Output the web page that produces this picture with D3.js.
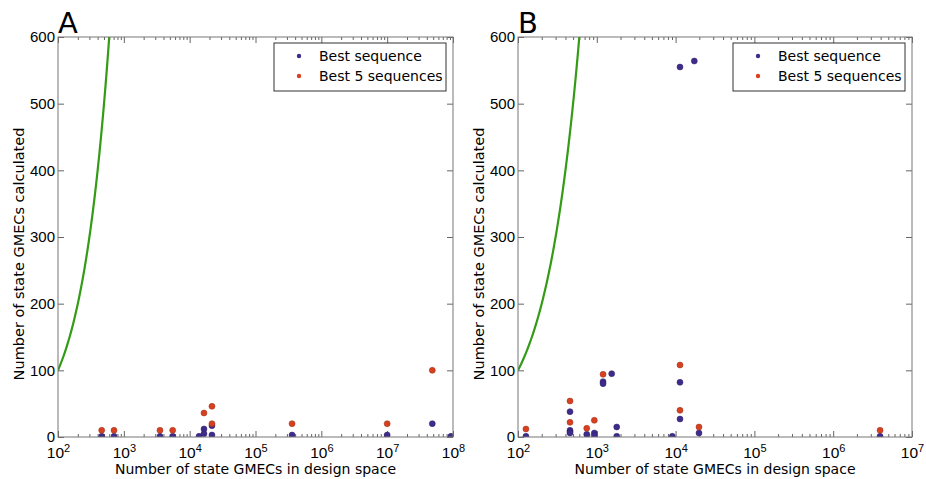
<!DOCTYPE html>
<html>
<head>
<meta charset="utf-8">
<script src="https://cdn.jsdelivr.net/npm/d3@7/dist/d3.min.js"></script>
<style>
  body { margin: 0; background: #fff; }
  svg { display: block; font-family: "DejaVu Sans", sans-serif; }
  .axis text { font-size: 15px; fill: #000; }
  .axis line { stroke: #666; }
</style>
</head>
<body>
<svg id="chart" width="926" height="479"></svg>
<script>
// Panel A data: [design space size, GMECs calculated]
const bestA = [
  [461, 1], [709, 1], [3540, 1], [5520, 1], [13870, 1],
  [16500, 12], [16500, 5], [21800, 17], [21800, 3],
  [359000, 3], [1.0e7, 3], [4.85e7, 20], [9.3e7, 1]
];
const best5A = [
  [461, 10], [709, 10], [3540, 10], [5520, 10],
  [16500, 36], [21800, 46], [21800, 20],
  [359000, 20], [1.0e7, 20], [4.85e7, 100]
];

// Panel B data
const bestB = [
  [126, 1], [457, 38], [457, 10], [457, 8], [457, 6],
  [745, 4], [930, 6], [930, 2], [1200, 83], [1200, 80],
  [1545, 95], [1790, 15], [1790, 1], [9080, 1],
  [11370, 82], [11370, 27], [11370, 555], [17270, 564],
  [19800, 6], [3.93e6, 1]
];
const best5B = [
  [126, 12], [457, 54], [457, 22], [745, 13], [930, 25],
  [1200, 94], [11370, 108], [11370, 40], [19800, 15], [3.93e6, 10]
];

const yTicks = [0, 100, 200, 300, 400, 500, 600];
const legendLabels = ['Best sequence', 'Best 5 sequences'];

// reference line y = x
const refX = d3.range(100, 601, 10);

const BLUE = '#3f2b8c';
const RED  = '#d8401f';
const GREEN = '#349b16';

const svg = d3.select('#chart');

function drawPanel(opts) {
  const { left, right, top, bottom, xDomain, best, best5, letter, id } = opts;
  const W = right - left, H = bottom - top;

  const x = d3.scaleLog().domain(xDomain).range([0, W]);
  const y = d3.scaleLinear().domain([0, 600]).range([H, 0]);

  const g = svg.append('g').attr('transform', `translate(${left},${top})`);

  g.append('clipPath').attr('id', 'clip' + id)
    .append('rect').attr('width', W).attr('height', H);

  // log ticks
  const lo = Math.log10(xDomain[0]), hi = Math.log10(xDomain[1]);
  const majors = d3.range(lo, hi + 1).map(e => Math.pow(10, e));
  const minors = [];
  for (let e = lo; e < hi; e++) {
    for (let k = 2; k <= 9; k++) minors.push(k * Math.pow(10, e));
  }

  const xMajor = g.append('g').attr('class', 'axis')
    .attr('transform', `translate(0,${H})`)
    .call(d3.axisBottom(x).tickValues(majors).tickSize(-6).tickPadding(10).tickFormat(() => '10'))
    .call(ax => ax.select('.domain').remove());
  xMajor.selectAll('.tick text')
    .style('font-size', '15.5px')
    .each(function(d) {
      d3.select(this).append('tspan')
        .attr('dy', '-0.55em')
        .style('font-size', '11px')
        .text(Math.round(Math.log10(d)));
    });

  g.append('g').attr('class', 'axis')
    .attr('transform', `translate(0,${H})`)
    .call(d3.axisBottom(x).tickValues(minors).tickSize(-3).tickFormat(''))
    .call(ax => ax.select('.domain').remove());
  g.append('g').attr('class', 'axis')
    .call(d3.axisTop(x).tickValues(majors).tickSize(-6).tickFormat(''))
    .call(ax => ax.select('.domain').remove());
  g.append('g').attr('class', 'axis')
    .call(d3.axisTop(x).tickValues(minors).tickSize(-3).tickFormat(''))
    .call(ax => ax.select('.domain').remove());

  g.append('g').attr('class', 'axis')
    .call(d3.axisLeft(y).tickValues(yTicks).tickSize(-6).tickPadding(3))
    .call(ax => ax.select('.domain').remove());
  g.append('g').attr('class', 'axis')
    .attr('transform', `translate(${W},0)`)
    .call(d3.axisRight(y).tickValues(yTicks).tickSize(-6).tickFormat(''))
    .call(ax => ax.select('.domain').remove());

  // y = x line
  g.append('path')
    .datum(refX)
    .attr('clip-path', `url(#clip${id})`)
    .attr('fill', 'none')
    .attr('stroke', GREEN)
    .attr('stroke-width', 2.2)
    .attr('d', d3.line().x(d => x(d)).y(d => y(d)).curve(d3.curveMonotoneX));

  // points
  [[best, BLUE], [best5, RED]].forEach(([data, col]) => {
    g.append('g').attr('clip-path', `url(#clip${id})`)
      .selectAll('circle')
      .data(data)
      .join('circle')
        .attr('cx', d => x(d[0]))
        .attr('cy', d => y(d[1]))
        .attr('r', 3)
        .attr('fill', col)
        .attr('stroke', d3.color(col).darker(1))
        .attr('stroke-width', 0.5);
  });

  // frame
  g.append('rect')
    .attr('width', W).attr('height', H)
    .attr('fill', 'none')
    .attr('stroke', '#777')
    .attr('stroke-width', 1);

  // legend
  const lg = g.append('g').attr('transform', `translate(${W - 179},6)`);
  lg.append('rect')
    .attr('width', 172).attr('height', 48)
    .attr('fill', '#fff').attr('stroke', '#333').attr('stroke-width', 1);
  [BLUE, RED].forEach((col, i) => {
    lg.append('circle')
      .attr('cx', 25).attr('cy', 13 + i * 20).attr('r', 2.2)
      .attr('fill', col);
    lg.append('text')
      .attr('x', 45).attr('y', 13 + i * 20)
      .attr('dy', '0.35em')
      .style('font-size', '14px')
      .text(legendLabels[i]);
  });

  // labels
  g.append('text')
    .attr('x', W / 2).attr('y', H + 37)
    .attr('text-anchor', 'middle')
    .style('font-size', '14px')
    .text('Number of state GMECs in design space');
  g.append('text')
    .attr('transform', `translate(${-34},${H / 2 + 17}) rotate(-90)`)
    .attr('text-anchor', 'middle')
    .style('font-size', '14.5px')
    .text('Number of state GMECs calculated');
  g.append('text')
    .attr('x', 0).attr('y', -4)
    .style('font-size', '29px')
    .text(letter);
}

drawPanel({ id: 'A', left: 58, right: 453, top: 37, bottom: 437,
  xDomain: [1e2, 1e8], best: bestA, best5: best5A, letter: 'A' });
drawPanel({ id: 'B', left: 518, right: 912, top: 37, bottom: 437,
  xDomain: [1e2, 1e7], best: bestB, best5: best5B, letter: 'B' });
</script>
</body>
</html>
